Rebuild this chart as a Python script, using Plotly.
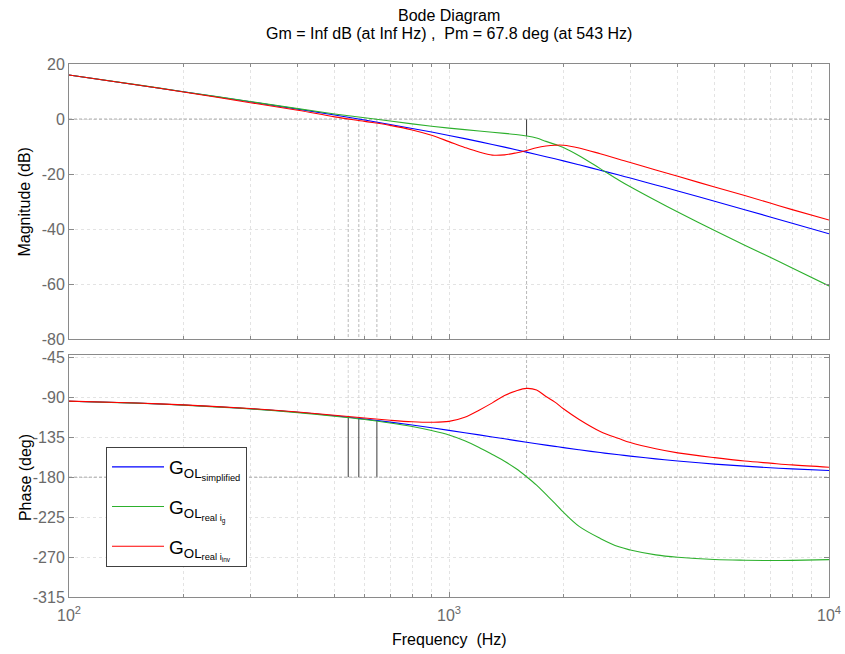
import plotly.graph_objects as go

# ---------------- data ----------------
freq_hz = [100, 150, 200, 300, 400, 500, 600, 700, 800, 900, 1000, 1100, 1200, 1300,
           1400, 1500, 1600, 1700, 1800, 1900, 2000, 2200, 2500, 2800, 3000, 3500,
           4000, 5000, 6000, 7000, 8000, 10000]

mag_simplified_db = [16.0, 12.45, 9.9, 6.26, 3.6, 1.46, -0.36, -1.96, -3.4, -4.73, -5.96,
                     -7.11, -8.19, -9.22, -10.19, -11.12, -12.0, -12.85, -13.67, -14.45,
                     -15.2, -16.62, -18.58, -20.35, -21.44, -23.93, -26.12, -29.85, -32.92,
                     -35.55, -37.84, -41.67]
mag_real_ig_db = [16.0, 12.5, 9.95, 6.35, 3.8, 1.85, 0.45, -0.7, -1.75, -2.6, -3.3, -3.85,
                  -4.35, -4.8, -5.2, -5.6, -6.15, -6.9, -8.1, -9.2, -10.3, -13.3, -18.0,
                  -22.2, -24.6, -29.6, -33.8, -40.5, -45.8, -50.2, -54.1, -60.6]
mag_real_iinv_db = [16.0, 12.45, 9.85, 5.95, 3.2, 0.8, -0.85, -2.3, -3.95, -5.9, -8.2,
                    -10.3, -12.0, -13.1, -13.0, -12.3, -11.4, -10.4, -9.8, -9.5, -9.5,
                    -10.5, -12.6, -14.6, -15.75, -18.5, -20.8, -24.7, -27.8, -30.5, -32.9,
                    -36.7]

phase_simplified_deg = [-94.4, -96.5, -98.7, -102.9, -106.9, -110.8, -114.5, -118.0, -121.3,
                        -124.4, -127.3, -129.9, -132.4, -134.7, -136.8, -138.8, -140.6,
                        -142.3, -143.9, -145.3, -146.7, -149.1, -152.3, -154.8, -156.3,
                        -159.4, -161.8, -165.3, -167.6, -169.4, -170.7, -172.5]
phase_real_ig_deg = [-94.5, -96.6, -98.8, -103.1, -107.3, -111.3, -115.0, -119.0, -123.0,
                     -127.5, -132.5, -139.0, -146.5, -154.5, -162.0, -170.3, -179.5, -189.0,
                     -199.5, -209.5, -219.5, -235.5, -249.0, -258.5, -262.0, -267.5, -270.2,
                     -272.8, -273.6, -273.9, -273.7, -272.9]
phase_real_iinv_deg = [-94.3, -96.5, -98.6, -102.7, -106.6, -110.3, -113.4, -115.9, -117.6,
                       -118.2, -117.2, -112.5, -104.5, -96.3, -88.0, -82.9, -80.0, -81.8,
                       -89.2, -95.5, -103.0, -115.0, -128.5, -136.5, -141.0, -148.0, -152.6,
                       -158.0, -161.8, -164.2, -166.2, -168.8]

series_names = ["G<sub>OL<sub>simplified</sub></sub>",
                "G<sub>OL<sub>real i<sub>g</sub></sub></sub>",
                "G<sub>OL<sub>real i<sub>inv</sub></sub></sub>"]
series_colors = ["#0000FF", "#2DB02D", "#FF0000"]

# stability margin markers
crossover_freq_hz = [543, 579, 646]          # 0 dB crossings (red, blue, green)
crossover_phase_deg = [-112.2, -113.8, -116.4]
phase_cross_freq_hz = 1600                   # -180 deg crossing (green)
phase_cross_mag_db = -6.15
mag_ref_db = 0
phase_ref_deg = -180

mag_range = [-80, 20]
phase_range = [-315, -42.4]
mag_ticks = [-80, -60, -40, -20, 0, 20]
phase_ticks = [-315, -270, -225, -180, -135, -90, -45]
freq_ticks = [100, 1000, 10000]
freq_tick_text = ["10<sup>2</sup>", "10<sup>3</sup>", "10<sup>4</sup>"]
freq_minor = [m * d for d in (100, 1000) for m in range(2, 10)]

title_line1 = "Bode Diagram"
title_line2 = "Gm = Inf dB (at Inf Hz) ,\u00a0 Pm = 67.8 deg (at 543 Hz)"

# ---------------- figure ----------------
FONT = "Liberation Sans, Arial, sans-serif"
fig = go.Figure()

mags = [mag_simplified_db, mag_real_ig_db, mag_real_iinv_db]
phases = [phase_simplified_deg, phase_real_ig_deg, phase_real_iinv_deg]

# margin helper lines
dash_col = "#b8b8b8"
DASH = "3px,2px"
for fc, pc in zip(crossover_freq_hz, crossover_phase_deg):
    fig.add_trace(go.Scatter(x=[fc, fc], y=[mag_ref_db, mag_range[0]], mode="lines",
                             line=dict(color=dash_col, width=1, dash=DASH),
                             xaxis="x", yaxis="y", showlegend=False, hoverinfo="skip"))
    fig.add_trace(go.Scatter(x=[fc, fc], y=[phase_range[1], pc], mode="lines",
                             line=dict(color="#d4d4d4", width=1, dash=DASH),
                             xaxis="x2", yaxis="y2", showlegend=False, hoverinfo="skip"))
    fig.add_trace(go.Scatter(x=[fc, fc], y=[pc, phase_ref_deg], mode="lines",
                             line=dict(color="#3a3a3a", width=1),
                             xaxis="x2", yaxis="y2", showlegend=False, hoverinfo="skip"))

fig.add_trace(go.Scatter(x=[phase_cross_freq_hz] * 2, y=[mag_ref_db, phase_cross_mag_db],
                         mode="lines", line=dict(color="#3a3a3a", width=1),
                         xaxis="x", yaxis="y", showlegend=False, hoverinfo="skip"))
fig.add_trace(go.Scatter(x=[phase_cross_freq_hz] * 2, y=[phase_cross_mag_db, mag_range[0]],
                         mode="lines", line=dict(color=dash_col, width=1, dash=DASH),
                         xaxis="x", yaxis="y", showlegend=False, hoverinfo="skip"))
fig.add_trace(go.Scatter(x=[phase_cross_freq_hz] * 2, y=[phase_range[1], phase_ref_deg],
                         mode="lines", line=dict(color=dash_col, width=1, dash=DASH),
                         xaxis="x2", yaxis="y2", showlegend=False, hoverinfo="skip"))

# reference lines 0 dB and -180 deg
fig.add_trace(go.Scatter(x=[freq_ticks[0], freq_ticks[-1]], y=[mag_ref_db] * 2, mode="lines",
                         line=dict(color="#a8a8a8", width=1, dash=DASH),
                         xaxis="x", yaxis="y", showlegend=False, hoverinfo="skip"))
fig.add_trace(go.Scatter(x=[freq_ticks[0], freq_ticks[-1]], y=[phase_ref_deg] * 2, mode="lines",
                         line=dict(color="#a8a8a8", width=1, dash=DASH),
                         xaxis="x2", yaxis="y2", showlegend=False, hoverinfo="skip"))

for i, (name, col, m, p) in enumerate(zip(series_names, series_colors, mags, phases)):
    fig.add_trace(go.Scatter(x=freq_hz, y=m, mode="lines", name=name,
                             line=dict(color=col, width=1.1, shape="spline"),
                             xaxis="x", yaxis="y", showlegend=False))
    fig.add_trace(go.Scatter(x=freq_hz, y=p, mode="lines", name=name,
                             legendgroup=f"g{i}",
                             line=dict(color=col, width=1.1, shape="spline"),
                             xaxis="x2", yaxis="y2", showlegend=True))

grid_col = "#e3e3e3"
axis_col = "#8a8a8a"
tick_font = dict(family=FONT, size=16, color="#6a6a6a")

xcommon = dict(type="log", range=[2, 4], tickvals=freq_ticks, ticktext=freq_tick_text,
               showline=True, linecolor=axis_col, linewidth=1, mirror="allticks",
               ticks="inside", ticklen=5, tickcolor=axis_col, automargin=False,
               showgrid=True, gridcolor=grid_col, griddash="dot", zeroline=False,
               minor=dict(tickvals=freq_minor, showgrid=True, gridcolor=grid_col,
                          griddash="dot", ticks="inside", ticklen=3, tickcolor=axis_col),
               tickfont=tick_font)
ycommon = dict(showline=True, linecolor=axis_col, linewidth=1, mirror="allticks",
               ticks="inside", ticklen=5, tickcolor=axis_col, automargin=False,
               showgrid=True, gridcolor=grid_col, griddash="dot", zeroline=False,
               tickfont=tick_font)

fig.update_layout(
    width=845, height=654,
    margin=dict(l=69, r=16, t=64, b=57),
    paper_bgcolor="white", plot_bgcolor="white",
    font=dict(family=FONT, size=16, color="black"),
    xaxis=dict(**xcommon, anchor="y", showticklabels=False),
    xaxis2=dict(**xcommon, anchor="y2", matches="x", ticklabelstandoff=4),
    yaxis=dict(**ycommon, domain=[0.4835, 1], range=mag_range, tickvals=mag_ticks,
               ticktext=[str(v) for v in mag_ticks]),
    yaxis2=dict(**ycommon, domain=[0, 0.454], range=phase_range, tickvals=phase_ticks,
                ticktext=[str(v) for v in phase_ticks]),
    legend=dict(x=0.0487, y=0.2814, xanchor="left", yanchor="top",
                bordercolor="#404040", borderwidth=1, bgcolor="white",
                itemwidth=52, tracegroupgap=12, traceorder="grouped",
                font=dict(family=FONT, size=19, color="black")),
    showlegend=True,
)

annots = [
    dict(text=title_line1, x=0.5, y=1.091),
    dict(text=title_line2, x=0.5, y=1.058),
    dict(text="Frequency\u00a0 (Hz)", x=0.5, y=-0.0788),
    dict(text="Magnitude (dB)", x=-0.0579, y=0.742, textangle=-90),
    dict(text="Phase (deg)", x=-0.0579, y=0.225, textangle=-90),
]
for a in annots:
    fig.add_annotation(xref="paper", yref="paper", showarrow=False,
                       xanchor="center", yanchor="middle",
                       font=dict(family=FONT, size=16, color="black"), **a)

# remove the default 8px page margin so the 845x654 figure fills the window exactly
fig.write_html("out.html", config={"displayModeBar": False},
               post_script="document.body.style.margin='0px';")
